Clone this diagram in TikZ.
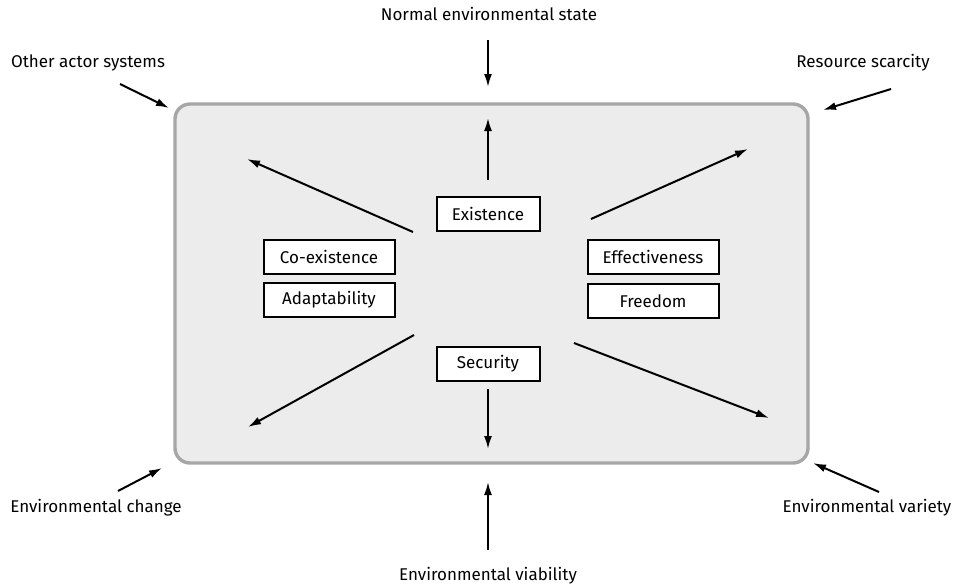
\documentclass[tikz,border=0pt]{standalone}
\usepackage{fontspec}
\setmainfont{Fira Sans}
\usetikzlibrary{arrows.meta}
\definecolor{framegray}{RGB}{166,166,166}
\definecolor{fillgray}{RGB}{236,236,236}
\tikzset{
  req/.style={draw, line width=2pt, fill=white, minimum height=34pt, inner sep=0pt},
  reqs/.style={req, minimum width=103pt},
  reqw/.style={req, minimum width=131pt},
  lbl/.style={inner sep=0pt},
  arr/.style={-{Latex[length=13pt,width=8pt]}, line width=2pt}
}
\begin{document}
\begin{tikzpicture}[x=1pt, y=-1pt, font=\fontsize{17}{20}\selectfont]
\useasboundingbox (0,0) rectangle (966,587);
\draw [rounded corners=15pt, line width=3.4pt, draw=framegray, fill=fillgray] (175,104) rectangle (808,463);
% outer labels
\node [lbl] (nes) at (489,14) {Normal environmental state};
\node [lbl] (oas) at (88,63) {Other actor systems};
\node [lbl] (rsc) at (863,63) {Resource scarcity};
\node [lbl] (ech) at (96,508) {Environmental change};
\node [lbl] (eva) at (867,508) {Environmental variety};
\node [lbl] (evi) at (488,576) {Environmental viability};
% requirement boxes
\node [reqs] (exi) at (488,214) {Existence};
\node [reqs] (sec) at (488,364) {Security};
\node [reqw] (coe) at (329,257) {Co-existence};
\node [reqw] (ada) at (329,300) {Adaptability};
\node [reqw] (eff) at (653,257) {Effectiveness};
\node [reqw] (fre) at (653,301) {Freedom};
% arrow ends
\coordinate (nesA) at (488,40);   \coordinate (nesB) at (488,87);
\coordinate (oasA) at (120,84);   \coordinate (oasB) at (169,108);
\coordinate (rscA) at (891,89);   \coordinate (rscB) at (823,110);
\coordinate (echA) at (118,491);  \coordinate (echB) at (162,468);
\coordinate (evaA) at (879,492);  \coordinate (evaB) at (813,463);
\coordinate (eviA) at (488,550);  \coordinate (eviB) at (488,482);
\coordinate (upA) at (488,180);   \coordinate (upB) at (488,118);
\coordinate (dnA) at (488,389);   \coordinate (dnB) at (488,449);
\coordinate (ulA) at (413,232);   \coordinate (ulB) at (247,159);
\coordinate (urA) at (591,219);   \coordinate (urB) at (748,149);
\coordinate (llA) at (414,335);   \coordinate (llB) at (248,427);
\coordinate (lrA) at (574,343);   \coordinate (lrB) at (769,418);
\foreach \a in {nes,oas,rsc,ech,eva,evi,up,dn,ul,ur,ll,lr}
  \draw [arr] (\a A)--(\a B);
\end{tikzpicture}
\end{document}
